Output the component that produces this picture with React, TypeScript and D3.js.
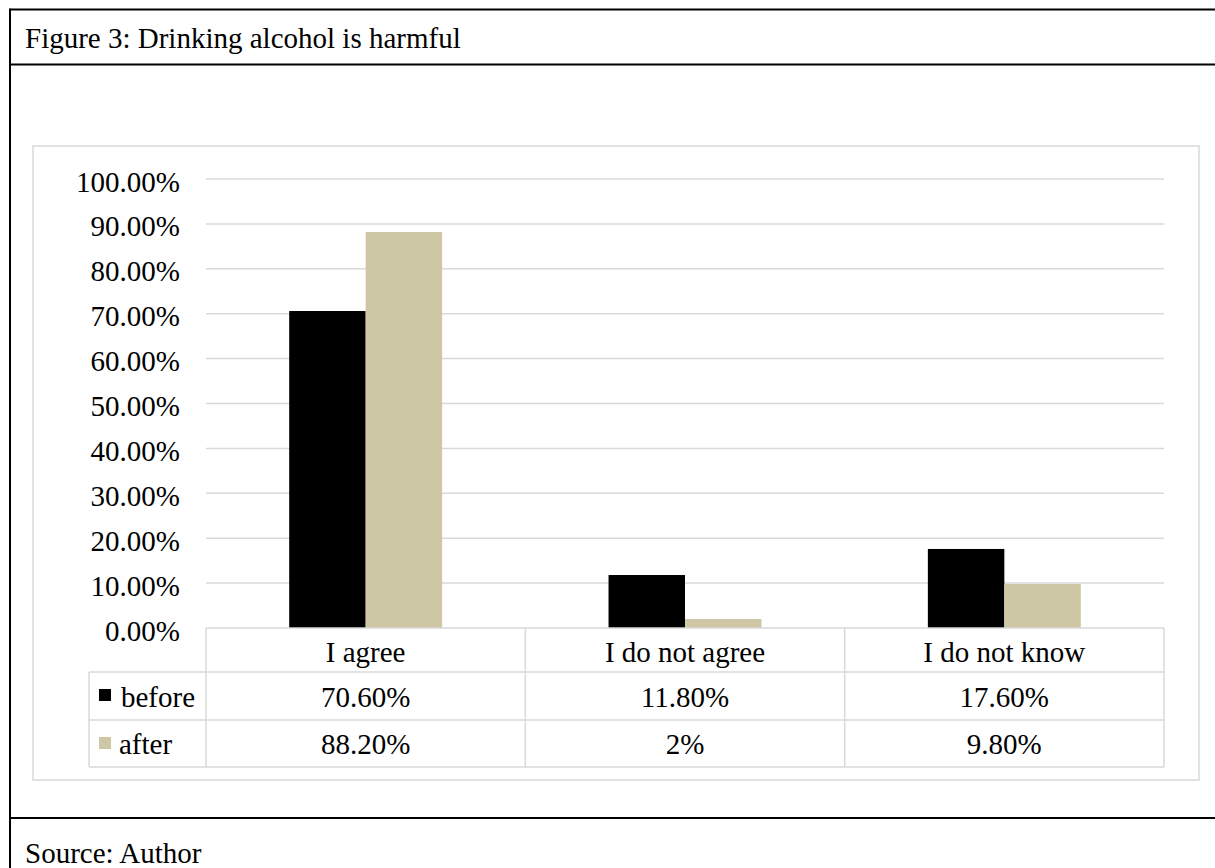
import React from "react";
import * as d3 from "d3";

const categories = ["I agree", "I do not agree", "I do not know"];
const seriesNames = ["before", "after"];
const beforeValues = [70.6, 11.8, 17.6];
const afterValues = [88.2, 2, 9.8];
const beforeLabels = ["70.60%", "11.80%", "17.60%"];
const afterLabels = ["88.20%", "2%", "9.80%"];
const yTicks = [0, 10, 20, 30, 40, 50, 60, 70, 80, 90, 100];
const colors = ["#000000", "#CDC7A6"];

const W = 1215;
const H = 868;
const FONT = "'Liberation Serif', 'Times New Roman', serif";
const FS = 29;
const GRID = "#D9D9D9";

export default function App() {
  const plotLeft = 206;
  const plotRight = 1164;
  const plotTop = 179;
  const plotBottom = 628;

  const x = d3.scaleBand<string>().domain(categories).range([plotLeft, plotRight]).padding(0);
  const xs = d3.scaleBand<string>().domain(seriesNames).range([0, x.bandwidth()]).paddingInner(0).paddingOuter(1.088);
  const y = d3.scaleLinear().domain([0, 100]).range([plotBottom, plotTop]);

  const seriesValues = [beforeValues, afterValues];
  const seriesLabels = [beforeLabels, afterLabels];

  const rowTops = [628, 672, 720, 767];
  const legendLeft = 89;

  return (
    <svg
      width={W}
      height={H}
      style={{ position: "absolute", left: 0, top: 0, background: "#fff" }}
      fontFamily={FONT}
    >
      <rect x={0} y={0} width={W} height={H} fill="#fff" />
      {/* outer frame */}
      <line x1={10} x2={W} y1={9.5} y2={9.5} stroke="#000" strokeWidth={2} />
      <line x1={10} x2={10} y1={8.5} y2={H} stroke="#000" strokeWidth={2} />
      <line x1={10} x2={W} y1={64.5} y2={64.5} stroke="#000" strokeWidth={2} />
      <line x1={10} x2={W} y1={818} y2={818} stroke="#000" strokeWidth={2} />
      <text x={25} y={48} fontSize={FS} fill="#000">Figure 3: Drinking alcohol is harmful</text>
      <text x={25} y={863} fontSize={FS} fill="#000">Source: Author</text>

      {/* chart area border */}
      <rect x={33} y={146} width={1166} height={634} fill="none" stroke={GRID} strokeWidth={1.5} />

      {/* gridlines */}
      {yTicks.map((t) => (
        <g key={t}>
          {t > 0 && (
            <line x1={plotLeft} x2={plotRight} y1={y(t)} y2={y(t)} stroke={GRID} strokeWidth={1.5} />
          )}
          <text x={180} y={y(t) + 12.5} fontSize={FS} textAnchor="end" fill="#000">
            {t.toFixed(2) + "%"}
          </text>
        </g>
      ))}

      {/* bars */}
      {categories.map((c, ci) =>
        seriesNames.map((s, si) => {
          const v = seriesValues[si][ci];
          const bx = (x(c) as number) + (xs(s) as number);
          return (
            <rect
              key={c + s}
              x={bx}
              y={y(v)}
              width={xs.bandwidth()}
              height={y(0) - y(v)}
              fill={colors[si]}
            />
          );
        })
      )}

      {/* data table */}
      <line x1={plotLeft} x2={plotRight} y1={rowTops[0]} y2={rowTops[0]} stroke={GRID} strokeWidth={1.5} />
      {rowTops.slice(1).map((r) => (
        <line key={r} x1={legendLeft} x2={plotRight} y1={r} y2={r} stroke={GRID} strokeWidth={1.5} />
      ))}
      <line x1={legendLeft} x2={legendLeft} y1={rowTops[1]} y2={rowTops[3]} stroke={GRID} strokeWidth={1.5} />
      {categories.map((c) => (
        <line key={c} x1={x(c) as number} x2={x(c) as number} y1={rowTops[0]} y2={rowTops[3]} stroke={GRID} strokeWidth={1.5} />
      ))}
      <line x1={plotRight} x2={plotRight} y1={rowTops[0]} y2={rowTops[3]} stroke={GRID} strokeWidth={1.5} />

      {categories.map((c) => (
        <text
          key={c}
          x={(x(c) as number) + x.bandwidth() / 2}
          y={rowTops[1] - 10.5}
          fontSize={FS}
          textAnchor="middle"
          fill="#000"
        >
          {c}
        </text>
      ))}
      {seriesNames.map((s, si) => (
        <g key={s}>
          <rect x={99} y={rowTops[si + 1] + 17} width={12} height={12} fill={colors[si]} />
          <text x={si === 0 ? 121 : 119} y={rowTops[si + 2] - 13} fontSize={FS} fill="#000">
            {s}
          </text>
          {categories.map((c, ci) => (
            <text
              key={c}
              x={(x(c) as number) + x.bandwidth() / 2}
              y={rowTops[si + 2] - 13}
              fontSize={FS}
              textAnchor="middle"
              fill="#000"
            >
              {seriesLabels[si][ci]}
            </text>
          ))}
        </g>
      ))}
    </svg>
  );
}
